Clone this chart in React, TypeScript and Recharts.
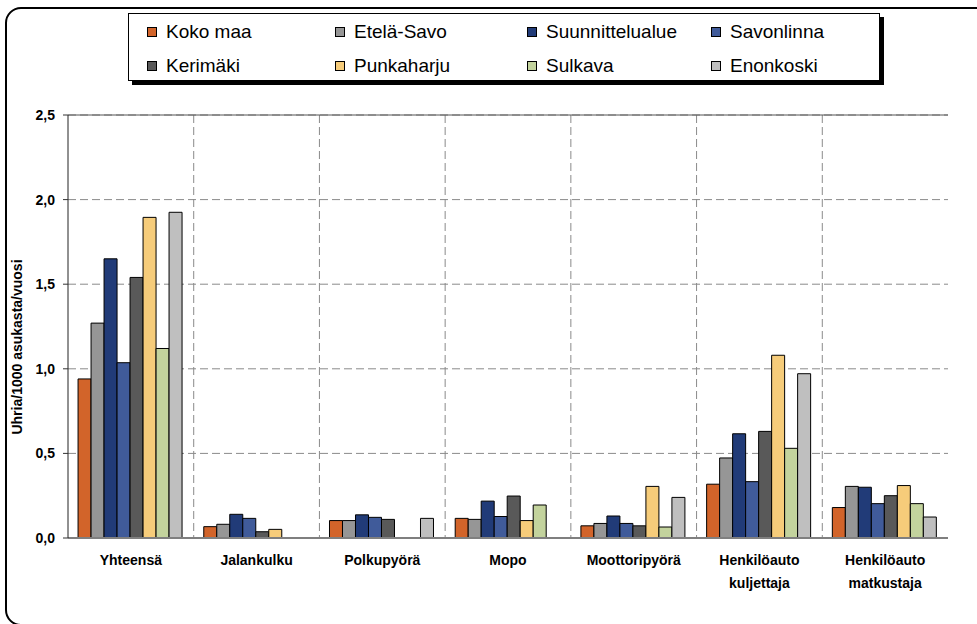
import React from 'react';
import { BarChart, Bar, XAxis, YAxis, CartesianGrid, ReferenceLine } from 'recharts';

const categories = [
  'Yhteensä',
  'Jalankulku',
  'Polkupyörä',
  'Mopo',
  'Moottoripyörä',
  'Henkilöauto\nkuljettaja',
  'Henkilöauto\nmatkustaja',
];

const kokoMaa = [0.94, 0.067, 0.103, 0.116, 0.072, 0.318, 0.18];
const etelaSavo = [1.27, 0.081, 0.103, 0.11, 0.086, 0.473, 0.305];
const suunnittelualue = [1.65, 0.14, 0.137, 0.218, 0.13, 0.616, 0.3];
const savonlinna = [1.036, 0.116, 0.122, 0.127, 0.086, 0.333, 0.203];
const kerimaki = [1.54, 0.037, 0.11, 0.248, 0.072, 0.63, 0.25];
const punkaharju = [1.895, 0.051, 0, 0.103, 0.305, 1.08, 0.31];
const sulkava = [1.12, 0, 0, 0.195, 0.065, 0.53, 0.203];
const enonkoski = [1.925, 0, 0.116, 0, 0.24, 0.971, 0.124];

const seriesNames = ['Koko maa', 'Etelä-Savo', 'Suunnittelualue', 'Savonlinna', 'Kerimäki', 'Punkaharju', 'Sulkava', 'Enonkoski'];
const seriesValues = [kokoMaa, etelaSavo, suunnittelualue, savonlinna, kerimaki, punkaharju, sulkava, enonkoski];
const seriesColors = ['#D2642A', '#969696', '#213B78', '#405B9A', '#595959', '#F6CC7A', '#C3D39D', '#BFBFBF'];

const yTicks = [0, 0.5, 1, 1.5, 2, 2.5];

const data = categories.map((c, i) => {
  const row: Record<string, any> = { category: c };
  seriesNames.forEach((n, j) => {
    row[n] = seriesValues[j][i];
  });
  return row;
});

const FONT = '"Liberation Sans", Arial, sans-serif';

const XTick = (props: any) => {
  const { x, y, payload } = props;
  const lines = String(payload.value).split('\n');
  return (
    <text x={x} y={y} textAnchor="middle" fontFamily={FONT} fontWeight="bold" fontSize={14} fill="#000">
      {lines.map((l, i) => (
        <tspan key={i} x={x} dy={i === 0 ? 27 : 23}>
          {l}
        </tspan>
      ))}
    </text>
  );
};

const legendCols = [18, 206, 398, 582];

export default function App() {
  return (
    <div style={{ position: 'absolute', left: 0, top: 0, width: 977, height: 624, overflow: 'hidden', background: '#fff', fontFamily: FONT }}>
      <div
        style={{
          position: 'absolute',
          left: 5,
          top: 7,
          width: 1000,
          height: 619,
          border: '2px solid #000',
          borderRadius: 16,
          boxSizing: 'border-box',
        }}
      />
      <div style={{ position: 'absolute', left: 0, top: 0 }}>
        <BarChart
          width={977}
          height={624}
          data={data}
          margin={{ top: 115, right: 29, bottom: 46, left: 8 }}
          barCategoryGap="8%"
          barGap={0}
        >
          <CartesianGrid
            stroke="#8a8a8a"
            strokeDasharray="8 4"
            verticalCoordinatesGenerator={({ offset }: any) =>
              [1, 2, 3, 4, 5, 6].map((i) => offset.left + (i * offset.width) / categories.length)
            }
          />
          <XAxis
            dataKey="category"
            height={40}
            interval={0}
            tickLine={false}
            tickSize={0}
            tickMargin={0}
            axisLine={{ stroke: '#7f7f7f', strokeWidth: 2 }}
            tick={<XTick />}
          />
          <YAxis
            width={60}
            domain={[0, 2.5]}
            ticks={yTicks}
            interval={0}
            tickSize={5}
            tickMargin={8}
            tickLine={{ stroke: '#333' }}
            axisLine={{ stroke: '#222' }}
            tickFormatter={(v: number) => v.toFixed(1).replace('.', ',')}
            tick={{ fontSize: 14, fontWeight: 'bold', fill: '#000', fontFamily: FONT }}
            label={{
              content: () => (
                <text
                  x={22}
                  y={347}
                  transform="rotate(-90, 22, 347)"
                  textAnchor="middle"
                  fontFamily={FONT}
                  fontWeight="bold"
                  fontSize={14}
                  fill="#000"
                >
                  Uhria/1000 asukasta/vuosi
                </text>
              ),
            }}
          />
          <YAxis
            yAxisId="right"
            orientation="right"
            width={0}
            domain={[0, 2.5]}
            tick={false}
            tickLine={false}
            axisLine={{ stroke: '#555' }}
          />
          <ReferenceLine y={2.5} stroke="#555" strokeWidth={1} />
          {seriesNames.map((n, j) => (
            <Bar key={n} dataKey={n} fill={seriesColors[j]} stroke="#000" strokeWidth={1} isAnimationActive={false} />
          ))}
        </BarChart>
      </div>
      <div
        style={{
          position: 'absolute',
          left: 128,
          top: 13,
          width: 752,
          height: 68,
          border: '1px solid #000',
          boxShadow: '4px 4px 0 #000',
          background: '#fff',
          boxSizing: 'border-box',
        }}
      >
        {seriesNames.map((n, j) => {
          const col = j % 4;
          const row = Math.floor(j / 4);
          return (
            <div
              key={n}
              style={{
                position: 'absolute',
                left: legendCols[col],
                top: (row === 0 ? 18 : 52) - 13,
                height: 26,
                display: 'flex',
                alignItems: 'center',
                whiteSpace: 'nowrap',
              }}
            >
              <div
                style={{
                  width: 10,
                  height: 10,
                  border: '1px solid #000',
                  background: seriesColors[j],
                  boxSizing: 'border-box',
                  marginRight: 9,
                }}
              />
              <span style={{ fontSize: 19, color: '#000', fontFamily: FONT }}>{n}</span>
            </div>
          );
        })}
      </div>
    </div>
  );
}
